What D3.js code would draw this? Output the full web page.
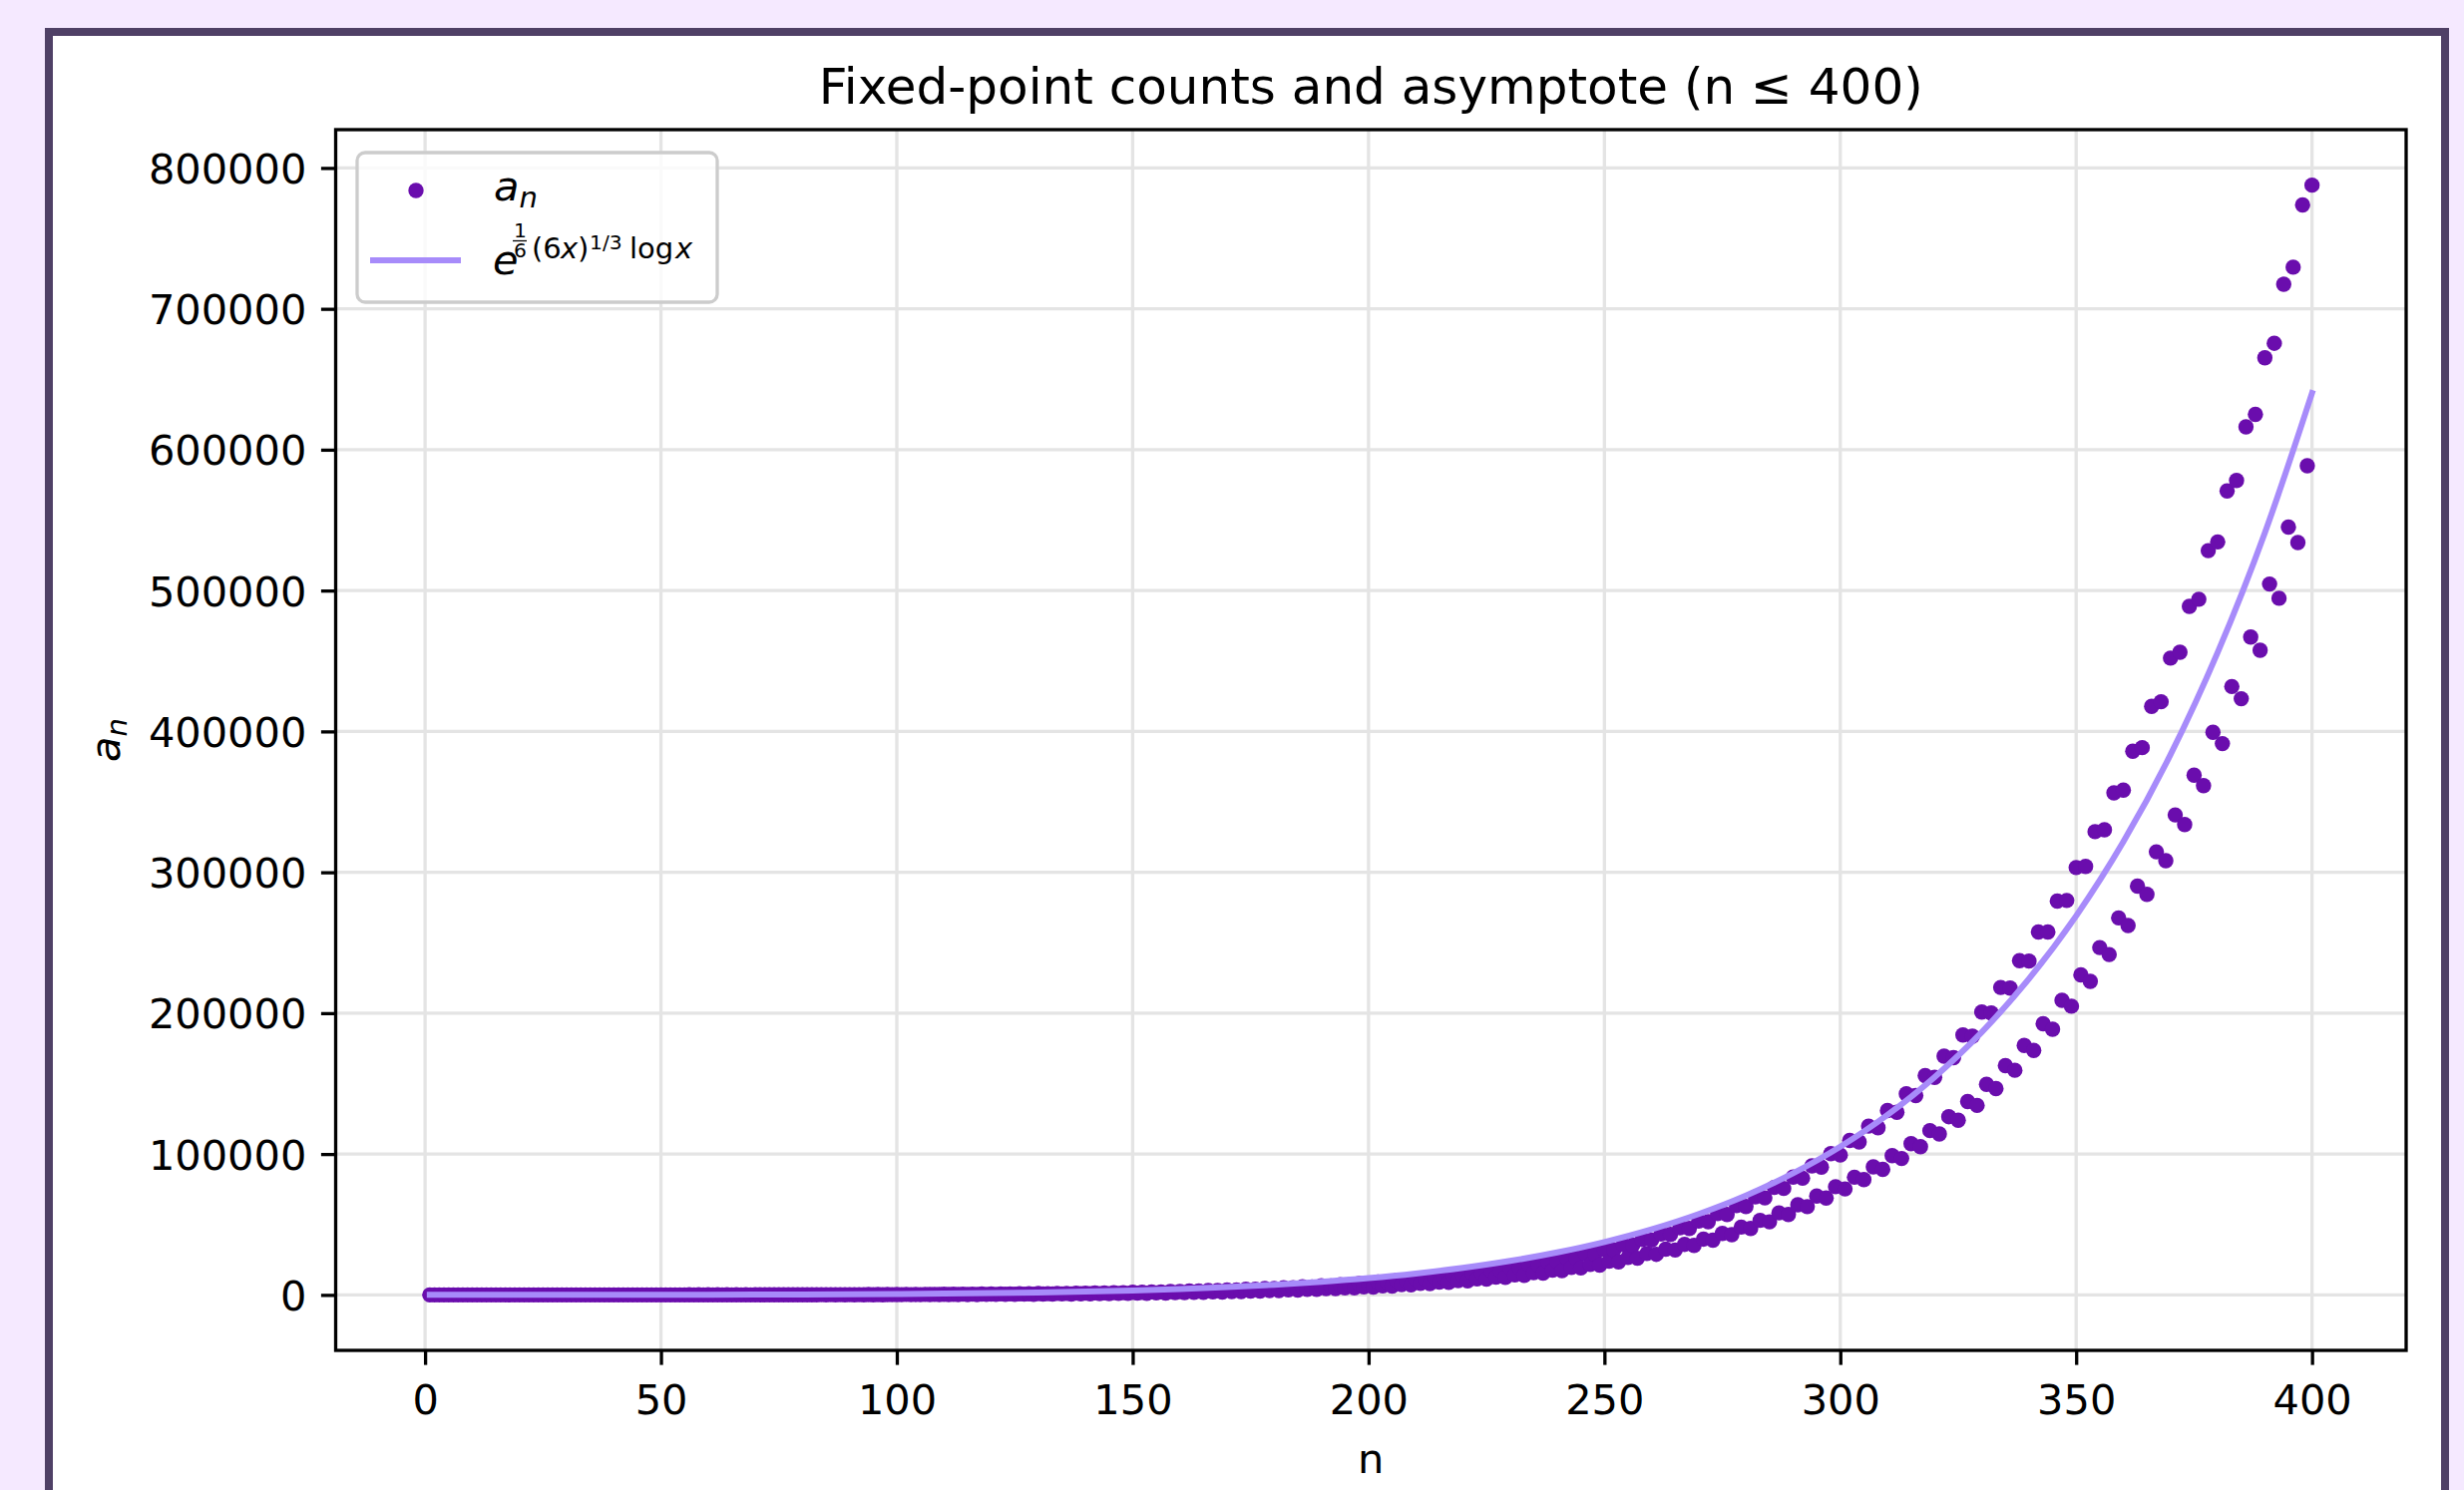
<!DOCTYPE html>
<html>
<head>
<meta charset="utf-8">
<title>Fixed-point counts and asymptote</title>
<script src="https://cdn.jsdelivr.net/npm/d3@7"></script>
<style>
  html, body { margin: 0; padding: 0; background: #f5e9ff; overflow: hidden; }
  svg { display: block; font-family: "DejaVu Sans", sans-serif; }
</style>
</head>
<body>
<svg id="chart" width="2470" height="1494"></svg>
<script>
// a_n for n = 1..400 (20 per row)
const anValues = [
  1,1,1,1,1,1,1,1,1,1,1,1,1,1,1,2,1,2,1,2,
  1,3,1,3,1,4,1,5,1,6,1,7,2,8,2,9,3,10,3,12,
  4,13,4,15,5,17,6,20,7,23,8,25,10,28,11,32,13,36,15,40,
  17,45,19,50,22,56,25,62,28,69,32,76,36,84,40,92,45,102,50,112,
  56,123,62,135,69,148,77,162,85,178,94,194,104,212,115,231,126,252,147,275,
  144,312,177,309,173,368,212,364,207,432,252,428,247,505,299,500,293,590,355,585,
  347,686,417,680,409,796,490,788,480,922,573,913,562,1064,668,1053,655,1226,778,1214,
  763,1408,902,1394,884,1614,1044,1598,1023,1848,1204,1830,1180,2108,1386,2087,1358,2404,1593,2380,
  1561,2733,1824,2706,1787,3103,2086,3072,2044,3519,2381,3484,2333,3980,2711,3940,2657,4499,3085,4454,
  3023,5072,3498,5021,3427,5712,3963,5655,3883,6427,4482,6363,4392,7213,5059,7141,4957,8095,5707,8014,
  5593,9063,6419,8972,6290,10137,7217,10036,7071,11329,8100,11216,7937,12634,9076,12509,8893,14087,10166,13947,
  9962,15677,11356,15521,11128,17434,12682,17260,12427,19372,14142,19179,13858,21486,15749,21273,15433,23827,17533,23590,
  17181,26377,19472,26114,19080,29178,21619,28888,21184,32256,23972,31935,23490,35606,26550,35252,26017,39293,29397,38902,
  28807,43298,32485,42867,31832,47683,35888,47209,35167,52480,39603,51958,38807,57674,43652,57100,42775,63373,48104,62742,
  47138,69568,52923,68876,51860,76313,58213,75554,57043,83664,63966,82832,62680,91602,70217,90690,68806,100279,76788,99281,
  75245,109647,83545,108556,81866,119831,90892,118639,89066,130901,98815,129598,96829,142738,107349,141497,105192,155629,116615,154473,
  114272,169495,126510,168450,123968,184517,137240,183613,134482,200787,149486,200058,146482,218264,162702,217748,159433,237238,177066,236978,
  173508,257603,192447,257648,188580,279605,209141,280010,204939,303372,227129,304198,222565,328838,246552,330153,241598,356411,267623,358293,
  262245,385939,290140,388470,284310,417764,314519,421039,308199,452051,340733,456175,333886,488740,368911,493826,361498,528363,399386,534541,
  391360,570717,431883,578125,423204,616256,466986,625049,457602,665206,504646,675557,494505,717466,545026,729558,534074,773761,588575,787803
];

// asymptote curve, sampled every 10
const asymN = [1, 10, 20, 30, 40, 50, 60, 70, 80, 90, 100, 110, 120, 130, 140, 150, 160, 170, 180, 190,
  200, 210, 220, 230, 240, 250, 260, 270, 280, 290, 300, 310, 320, 330, 340, 350, 360, 370, 380, 390, 400];
const asymVals = [1, 4.49, 11.74, 24.55, 45.6, 78.6, 128.3, 200.9, 304.3, 449, 648, 917, 1276, 1751, 2371, 3174, 4206, 5521, 7186, 9278,
  11894, 15146, 19168, 24117, 30184, 37577, 46561, 57441, 70546, 86330, 105222, 127787, 154659, 186572, 224371, 269029, 321644, 383491, 456084, 541028, 640227];

const xTicks = [0, 50, 100, 150, 200, 250, 300, 350, 400];
const yTicks = [0, 100000, 200000, 300000, 400000, 500000, 600000, 700000, 800000];

const titleText = 'Fixed-point counts and asymptote (n \u2264 400)';

const dotColor = '#6a0dad';
const lineColor = '#a78bfa';

const svg = d3.select('#chart');
const W = 2470, H = 1494;
// axes box in page pixels
const box = {left: 336.5, right: 2412, top: 130, bottom: 1354};
const fs = 41.5;   // tick / label font
const lw = 3.3;    // spine, tick width

// page background and the card
svg.append('rect').attr('width', W).attr('height', H).attr('fill', '#f5e9ff');
svg.append('rect')
  .attr('x', 49).attr('y', 32)
  .attr('width', 2402).attr('height', 1530)
  .attr('fill', '#ffffff')
  .attr('stroke', '#4f4066')
  .attr('stroke-width', 8);

const nValues = anValues.map((d, i) => i + 1);

// 5% margins on both axes, like matplotlib autoscale
const xPad = 0.05 * (d3.max(nValues) - d3.min(nValues));
const yPad = 0.05 * (d3.max(anValues) - d3.min(anValues));

const x = d3.scaleLinear()
  .domain([d3.min(nValues) - xPad, d3.max(nValues) + xPad])
  .range([box.left, box.right]);
const y = d3.scaleLinear()
  .domain([d3.min(anValues) - yPad, d3.max(anValues) + yPad])
  .range([box.bottom, box.top]);

// grid
const grid = svg.append('g').attr('stroke', '#e4e4e4').attr('stroke-width', lw);
grid.selectAll('line.gx')
  .data(xTicks)
  .join('line')
  .attr('class', 'gx')
  .attr('x1', d => x(d)).attr('x2', d => x(d))
  .attr('y1', box.top).attr('y2', box.bottom);
grid.selectAll('line.gy')
  .data(yTicks)
  .join('line')
  .attr('class', 'gy')
  .attr('x1', box.left).attr('x2', box.right)
  .attr('y1', d => y(d)).attr('y2', d => y(d));

// scatter
svg.append('g')
  .selectAll('circle')
  .data(anValues)
  .join('circle')
  .attr('cx', (d, i) => x(nValues[i]))
  .attr('cy', d => y(d))
  .attr('r', 7.7)
  .attr('fill', dotColor);

// asymptote on top of the dots
const asymLine = d3.line()
  .x((d, i) => x(asymN[i]))
  .y(d => y(d))
  .curve(d3.curveMonotoneX);

svg.append('path')
  .datum(asymVals)
  .attr('d', asymLine)
  .attr('fill', 'none')
  .attr('stroke', lineColor)
  .attr('stroke-width', 6)
  .attr('stroke-linecap', 'square');

// spines
svg.append('rect')
  .attr('x', box.left).attr('y', box.top)
  .attr('width', box.right - box.left)
  .attr('height', box.bottom - box.top)
  .attr('fill', 'none')
  .attr('stroke', '#000')
  .attr('stroke-width', lw);

// axes
const xAxisG = svg.append('g')
  .attr('transform', `translate(0,${box.bottom})`)
  .call(d3.axisBottom(x).tickValues(xTicks).tickFormat(d3.format('d'))
    .tickSize(14.6).tickSizeOuter(0).tickPadding(20));

const yAxisG = svg.append('g')
  .attr('transform', `translate(${box.left},0)`)
  .call(d3.axisLeft(y).tickValues(yTicks).tickFormat(d3.format('d'))
    .tickSize(14.6).tickSizeOuter(0).tickPadding(14.6));

[xAxisG, yAxisG].forEach(g => {
  g.attr('font-size', null).attr('font-family', null);
  g.select('.domain').remove();
  g.selectAll('.tick line').attr('stroke', '#000').attr('stroke-width', lw);
  g.selectAll('.tick text').attr('fill', '#000').style('font-size', fs + 'px');
});
yAxisG.selectAll('.tick text').attr('dy', '0.36em');

// title
svg.append('text')
  .attr('x', (box.left + box.right) / 2)
  .attr('y', 104)
  .attr('text-anchor', 'middle')
  .style('font-size', '50px')
  .attr('fill', '#000')
  .text(titleText);

// x label
svg.append('text')
  .attr('x', (box.left + box.right) / 2)
  .attr('y', 1477)
  .attr('text-anchor', 'middle')
  .style('font-size', fs + 'px')
  .attr('fill', '#000')
  .text('n');

// y label, a with subscript n
const yLab = svg.append('text')
  .attr('transform', `translate(120,${(box.top + box.bottom) / 2}) rotate(-90)`)
  .attr('text-anchor', 'middle')
  .attr('fill', '#000')
  .style('font-size', fs + 'px');
yLab.append('tspan').style('font-style', 'italic').text('a');
yLab.append('tspan').style('font-style', 'italic').style('font-size', '29px').attr('dy', 7).text('n');

// legend
const leg = svg.append('g');
leg.append('rect')
  .attr('x', 358).attr('y', 153)
  .attr('width', 361).attr('height', 150)
  .attr('rx', 8)
  .attr('fill', '#ffffff').attr('fill-opacity', 0.8)
  .attr('stroke', '#cccccc').attr('stroke-width', lw);

leg.append('circle')
  .attr('cx', 417).attr('cy', 191).attr('r', 7.7)
  .attr('fill', dotColor);

const l1 = leg.append('text')
  .attr('x', 495).attr('y', 201)
  .attr('fill', '#000')
  .style('font-size', fs + 'px');
l1.append('tspan').style('font-style', 'italic').text('a');
l1.append('tspan').style('font-style', 'italic').style('font-size', '29px').attr('dy', 7).text('n');

leg.append('line')
  .attr('x1', 371).attr('x2', 462)
  .attr('y1', 261).attr('y2', 261)
  .attr('stroke', lineColor).attr('stroke-width', 6);

// e^{ (1/6) (6x)^{1/3} log x } as one text, pieces placed by hand
const mathBits = [
  {t: 'e', x: 494, y: 275, size: fs, italic: true},
  {t: '1', x: 515, y: 238, size: 20.3},
  {t: '6', x: 515, y: 258, size: 20.3},
  {t: '(6', x: 533, y: 259, size: 29},
  {t: 'x', x: 562, y: 259, size: 29, italic: true},
  {t: ')', x: 579, y: 259, size: 29},
  {t: '1/3', x: 591, y: 250, size: 20.3},
  {t: 'log', x: 631, y: 259, size: 29},
  {t: 'x', x: 677, y: 259, size: 29, italic: true}
];
const l2 = leg.append('text')
  .attr('fill', '#000');
l2.selectAll('tspan')
  .data(mathBits)
  .join('tspan')
  .attr('x', d => d.x).attr('y', d => d.y)
  .style('font-size', d => d.size + 'px')
  .style('font-style', d => d.italic ? 'italic' : 'normal')
  .text(d => d.t);
// fraction bar
leg.append('line')
  .attr('x1', 514).attr('x2', 528)
  .attr('y1', 241.5).attr('y2', 241.5)
  .attr('stroke', '#000').attr('stroke-width', 1.3);
</script>
</body>
</html>
